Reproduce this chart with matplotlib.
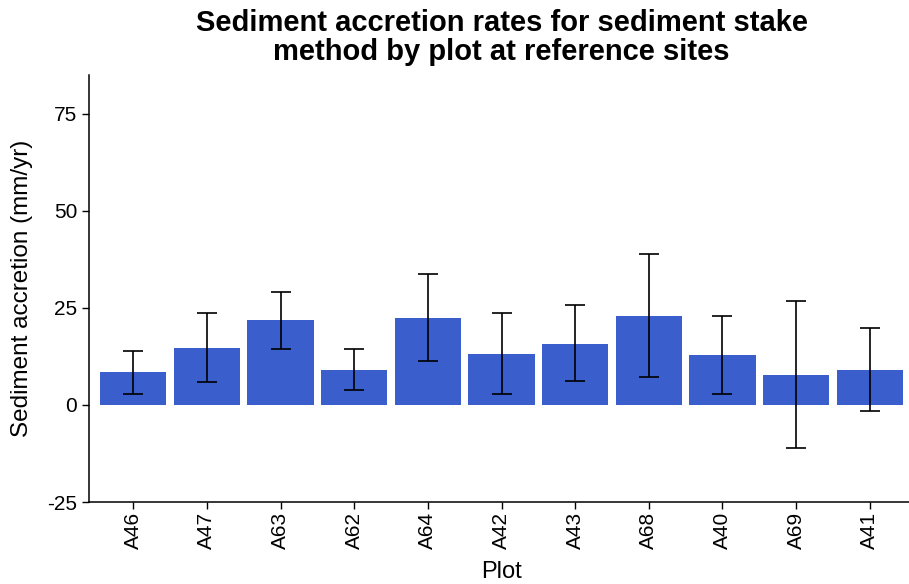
import matplotlib
matplotlib.use("Agg")
import matplotlib.pyplot as plt
import numpy as np

plots = ["A46", "A47", "A63", "A62", "A64", "A42", "A43", "A68", "A40", "A69", "A41"]
rate = [8.4, 14.7, 21.8, 9.1, 22.4, 13.1, 15.7, 22.9, 12.9, 7.7, 9.0]
upper = [14.0, 23.8, 29.0, 14.5, 33.8, 23.6, 25.8, 38.9, 22.9, 26.7, 19.7]
lower = [2.9, 5.8, 14.5, 3.9, 11.2, 2.9, 6.1, 7.2, 2.9, -11.2, -1.6]
yticks = [-25, 0, 25, 50, 75]

plt.rcParams["font.family"] = ["Liberation Sans", "DejaVu Sans"]
plt.rcParams["axes.unicode_minus"] = False

fig = plt.figure(figsize=(9.09, 5.84), dpi=100)
W, H = 909, 584
ax = fig.add_axes([89 / W, (H - 502) / H, (914 - 89) / W, (502 - 75) / H])

x = np.arange(len(plots))
rate_a = np.array(rate)
yerr = np.vstack([rate_a - np.array(lower), np.array(upper) - rate_a])
ax.bar(x, rate, width=0.9, color="#3A5FCD", zorder=2)
ax.errorbar(x, rate, yerr=yerr, fmt="none", ecolor="black", elinewidth=1.2,
            capsize=7, capthick=1.2, zorder=3)

ax.set_xlim(-0.6, len(plots) - 0.4)
ax.set_ylim(-25, 85)
ax.set_yticks(yticks)
ax.set_xticks(x)
ax.set_xticklabels(plots, rotation=90)
ax.tick_params(axis="both", labelsize=15, length=5, width=1, color="black",
               labelcolor="black")
ax.tick_params(axis="x", pad=2)
for side in ("top", "right"):
    ax.spines[side].set_visible(False)
for side in ("left", "bottom"):
    ax.spines[side].set_linewidth(1.1)

ax.set_xlabel("Plot", fontsize=17, labelpad=9)
ax.set_ylabel("Sediment accretion (mm/yr)", fontsize=17.5, labelpad=10)

fig.suptitle("Sediment accretion rates for sediment stake\nmethod by plot at reference sites",
             fontsize=21, fontweight="bold", x=(89 + 914) / 2 / W, y=0.985,
             linespacing=1.05)

fig.savefig("out.png", dpi=100)
